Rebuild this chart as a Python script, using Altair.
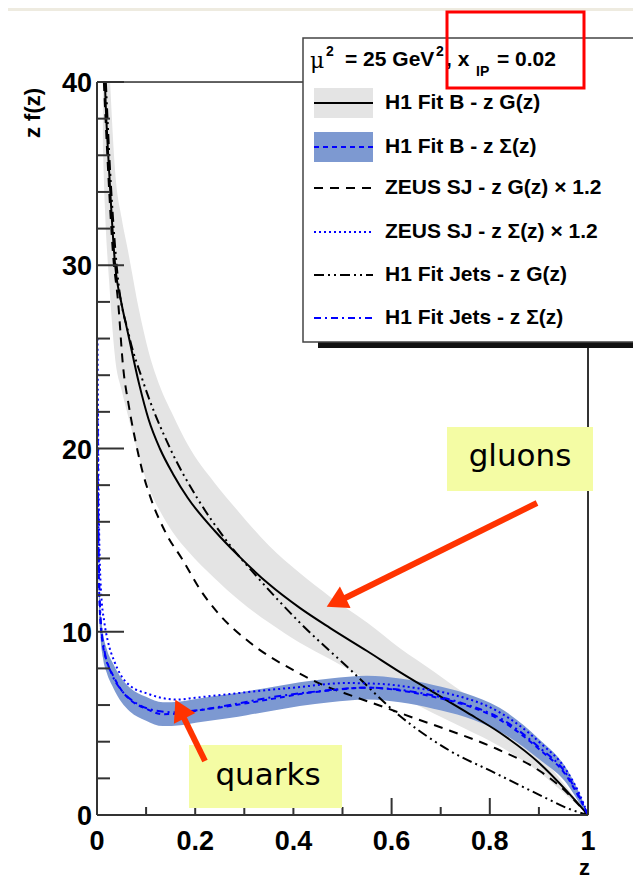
import altair as alt
import pandas as pd

# ---------------- data ----------------
# H1 Fit B - z G(z) (central line and grey error band)
G_z  = [0.012, 0.016, 0.025, 0.037, 0.05, 0.063, 0.086, 0.105, 0.128, 0.155, 0.185, 0.24, 0.29, 0.35, 0.413, 0.475, 0.55, 0.617, 0.685, 0.75, 0.82, 0.9, 0.957, 1.0]
G_v  = [44, 40, 35, 30, 27.9, 26.3, 23.5, 21.6, 20.0, 18.6, 17.3, 15.5, 14.1, 12.6, 11.3, 10.2, 8.95, 7.8, 6.7, 5.65, 4.5, 2.85, 1.3, 0]
G_lo = [36.5, 33.2, 29, 24.9, 23.2, 21.8, 19.5, 17.9, 16.6, 15.4, 14.4, 12.9, 11.7, 10.5, 9.4, 8.5, 7.4, 6.5, 5.55, 4.7, 3.75, 2.35, 1.05, 0]
G_hi = [51.5, 46.8, 41, 35.1, 32.6, 30.8, 27.5, 25.3, 23.4, 21.8, 20.2, 18.1, 16.5, 14.7, 13.2, 11.9, 10.5, 9.1, 7.85, 6.6, 5.25, 3.35, 1.5, 0]

# H1 Fit B - z Sigma(z) (central line and blue error band)
Q_z  = [0.001, 0.003, 0.006, 0.012, 0.02, 0.033, 0.05, 0.067, 0.1, 0.134, 0.17, 0.204, 0.27, 0.305, 0.36, 0.413, 0.475, 0.55, 0.617, 0.685, 0.75, 0.82, 0.9, 0.957, 0.985, 1.0]
Q_v  = [22, 14.5, 11, 9.3, 8.4, 7.6, 6.8, 6.3, 5.8, 5.5, 5.55, 5.7, 5.95, 6.1, 6.35, 6.6, 6.8, 6.95, 6.8, 6.45, 6.0, 5.2, 3.6, 2.1, 0.8, 0]
Q_lo = [20.5, 13.5, 10.2, 8.6, 7.75, 6.95, 6.15, 5.65, 5.15, 4.85, 4.9, 5.05, 5.3, 5.45, 5.7, 5.95, 6.15, 6.3, 6.15, 5.8, 5.35, 4.55, 3.05, 1.7, 0.55, 0]
Q_hi = [23.5, 15.5, 11.8, 10.0, 9.05, 8.25, 7.45, 6.95, 6.45, 6.15, 6.2, 6.35, 6.6, 6.75, 7.0, 7.25, 7.45, 7.6, 7.45, 7.1, 6.65, 5.85, 4.15, 2.5, 1.05, 0]

# ZEUS SJ - z G(z) x 1.2
ZG_z = [0.014, 0.022, 0.033, 0.043, 0.053, 0.065, 0.08, 0.094, 0.108, 0.14, 0.175, 0.21, 0.244, 0.312, 0.40, 0.46, 0.52, 0.583, 0.65, 0.719, 0.815, 0.902, 0.95, 1.0]
ZG_v = [40, 35.5, 30.5, 28, 24.5, 22.3, 20.2, 18.6, 17.4, 15.4, 13.9, 12.3, 11.1, 9.4, 7.9, 7.1, 6.5, 5.9, 5.25, 4.6, 3.6, 2.4, 1.4, 0]

# ZEUS SJ - z Sigma(z) x 1.2
ZQ_z = [0.001, 0.004, 0.008, 0.015, 0.022, 0.035, 0.047, 0.07, 0.1, 0.13, 0.163, 0.2, 0.27, 0.305, 0.4, 0.51, 0.58, 0.644, 0.72, 0.82, 0.9, 0.957, 0.985, 1.0]
ZQ_v = [26, 16, 12.3, 10.5, 9.5, 8.4, 7.7, 7.0, 6.65, 6.4, 6.3, 6.4, 6.6, 6.7, 6.95, 7.2, 7.15, 6.95, 6.6, 5.6, 4.0, 2.4, 1.0, 0]

# H1 Fit Jets - z G(z)
JG_z = [0.018, 0.027, 0.04, 0.065, 0.092, 0.149, 0.204, 0.26, 0.326, 0.413, 0.515, 0.617, 0.719, 0.81, 0.87, 0.92, 0.96, 1.0]
JG_v = [40, 35, 30, 26.2, 23.8, 20, 17.3, 15.1, 13.0, 10.5, 7.95, 5.4, 3.5, 2.3, 1.5, 0.85, 0.35, 0]

# H1 Fit Jets - z Sigma(z)
JQ_z = [0.001, 0.004, 0.008, 0.015, 0.03, 0.05, 0.08, 0.12, 0.16, 0.2, 0.27, 0.35, 0.45, 0.55, 0.65, 0.75, 0.82, 0.9, 0.957, 0.985, 1.0]
JQ_v = [21, 13.5, 10.5, 9.0, 7.7, 6.8, 6.1, 5.7, 5.6, 5.7, 6.0, 6.4, 6.75, 6.95, 6.7, 6.05, 5.3, 3.7, 2.2, 0.85, 0]

# axis ticks and labels
X_MAJOR = [0, 0.2, 0.4, 0.6, 0.8, 1.0]
X_LABELS = ["0", "0.2", "0.4", "0.6", "0.8", "1"]
X_MINOR = [0.1, 0.3, 0.5, 0.7, 0.9]
Y_MAJOR = [0, 10, 20, 30, 40]
Y_LABELS = ["0", "10", "20", "30", "40"]
Y_MINOR = [2, 4, 6, 8, 12, 14, 16, 18, 22, 24, 26, 28, 32, 34, 36, 38]

LEGEND_LABELS = ["H1 Fit B - z G(z)", "H1 Fit B - z \u03a3(z)",
                 "ZEUS SJ - z G(z) \u00d7 1.2", "ZEUS SJ - z \u03a3(z) \u00d7 1.2",
                 "H1 Fit Jets - z G(z)", "H1 Fit Jets - z \u03a3(z)"]

# ---------------- style ----------------
W, H = 491, 733
FONT = "Liberation Sans"
GREY_BAND = "#e4e4e4"
BLUE_BAND = "#7d99d1"
BLUE = "#0000ff"
BLACK = "#000000"
FRAME = "#333333"
RED = "#ff3300"
YELLOW = "#f4fca4"

xs = alt.Scale(domain=[0, 1], nice=False, zero=False)
ys = alt.Scale(domain=[0, 40], nice=False, zero=False)
dummy = alt.Data(values=[{"a": 1}])


def X(f="z"):
    return alt.X(f + ":Q", scale=xs, axis=None)


def Y(f="v"):
    return alt.Y(f + ":Q", scale=ys, axis=None)


def curve(z, v, color, dash=None, width=2.0):
    kw = dict(color=color, strokeWidth=width, clip=True, interpolate="monotone")
    if dash:
        kw["strokeDash"] = dash
    return alt.Chart(pd.DataFrame({"z": z, "v": v})).mark_line(**kw).encode(x=X(), y=Y())


def band(z, lo, hi, color):
    df = pd.DataFrame({"z": z, "lo": lo, "hi": hi})
    return alt.Chart(df).mark_area(color=color, clip=True, interpolate="monotone", opacity=1).encode(
        x=X(), y=Y("lo"), y2=alt.Y2("hi:Q"))


def prect(x, x2, y, y2, **kw):
    return alt.Chart(dummy).mark_rect(**kw).encode(
        x=alt.value(x), x2=alt.value(x2), y=alt.value(y), y2=alt.value(y2))


def prule(x, x2, y, y2, **kw):
    return alt.Chart(dummy).mark_rule(**kw).encode(
        x=alt.value(x), x2=alt.value(x2), y=alt.value(y), y2=alt.value(y2))


def ptext(text, x, y, size, **kw):
    base = dict(font=FONT, fontSize=size, fontWeight="bold", color=BLACK,
                align="left", baseline="middle")
    base.update(kw)
    return alt.Chart(dummy).mark_text(text=text, **base).encode(x=alt.value(x), y=alt.value(y))


layers = []

# bands
layers.append(band(G_z, G_lo, G_hi, GREY_BAND))
layers.append(band(Q_z, Q_lo, Q_hi, BLUE_BAND))

# curves
DASH_ZG = [9, 7]
DASH_ZQ = [2, 3]
DASH_JG = [10, 4, 2, 4, 2, 4]
DASH_JQ = [7, 4, 2, 4]
DASH_Q = [5, 4]
layers.append(curve(ZG_z, ZG_v, BLACK, DASH_ZG))
layers.append(curve(JG_z, JG_v, BLACK, DASH_JG))
layers.append(curve(G_z, G_v, BLACK))
layers.append(curve(ZQ_z, ZQ_v, BLUE, DASH_ZQ))
layers.append(curve(JQ_z, JQ_v, BLUE, DASH_JQ))
layers.append(curve(Q_z, Q_v, BLUE, DASH_Q))

# frame
layers.append(prule(0, 0, 0, H, color=FRAME, strokeWidth=2))
layers.append(prule(0, W, H, H, color=FRAME, strokeWidth=2))
layers.append(prule(0, W, 0, 0, color=FRAME, strokeWidth=1.5))
layers.append(prule(W, W, 0, H, color=FRAME, strokeWidth=2))

# ticks (inward)
layers.append(alt.Chart(pd.DataFrame({"z": X_MAJOR})).mark_rule(color=FRAME, strokeWidth=2).encode(
    x=X(), y=alt.value(H), y2=alt.value(H - 17)))
layers.append(alt.Chart(pd.DataFrame({"z": X_MINOR})).mark_rule(color=FRAME, strokeWidth=2).encode(
    x=X(), y=alt.value(H), y2=alt.value(H - 8)))
layers.append(alt.Chart(pd.DataFrame({"v": Y_MAJOR})).mark_rule(color=FRAME, strokeWidth=2).encode(
    y=Y(), x=alt.value(0), x2=alt.value(27)))
layers.append(alt.Chart(pd.DataFrame({"v": Y_MINOR})).mark_rule(color=FRAME, strokeWidth=2).encode(
    y=Y(), x=alt.value(0), x2=alt.value(13)))

# tick labels
layers.append(alt.Chart(pd.DataFrame({"z": X_MAJOR, "t": X_LABELS})).mark_text(
    font=FONT, fontSize=27, fontWeight="bold", color=BLACK, align="center", baseline="middle").encode(
    x=X(), y=alt.value(760), text="t:N"))
layers.append(alt.Chart(pd.DataFrame({"v": Y_MAJOR, "t": Y_LABELS})).mark_text(
    font=FONT, fontSize=27, fontWeight="bold", color=BLACK, align="right", baseline="middle", dy=2).encode(
    y=Y(), x=alt.value(-5), text="t:N"))

# axis titles
layers.append(ptext("z f(z)", -64, 31, 22, angle=270, align="center"))
layers.append(ptext("z", 493, 793, 22, align="right", baseline="alphabetic"))

# legend box
layers.append(prect(221, 560, 252, 266, color="#111111"))
layers.append(prect(206, 560, -44, 260, fill="white", stroke="#444444", strokeWidth=1.5))
# title:  mu^2 = 25 GeV^2, x_IP = 0.02
layers.append(ptext("\u03bc", 213, -21, 22, fontWeight="normal", font="DejaVu Serif"))
layers.append(ptext("2", 229, -30, 14))
layers.append(ptext("= 25 GeV", 248, -22, 21))
layers.append(ptext("2", 339, -30, 14))
layers.append(ptext(", x", 349, -22, 21))
layers.append(ptext("IP", 379, -10, 14))
layers.append(ptext("= 0.02", 400, -22, 21))

ROWS = [21, 65, 106, 150, 193, 236]
layers.append(prect(217, 276, 6, 36, color=GREY_BAND))
layers.append(prule(217, 276, ROWS[0], ROWS[0], color=BLACK, strokeWidth=2))
layers.append(prect(217, 276, 50, 80, color=BLUE_BAND))
layers.append(prule(217, 276, ROWS[1], ROWS[1], color=BLUE, strokeWidth=2, strokeDash=DASH_Q))
layers.append(prule(217, 276, ROWS[2], ROWS[2], color=BLACK, strokeWidth=2, strokeDash=DASH_ZG))
layers.append(prule(217, 276, ROWS[3], ROWS[3], color=BLUE, strokeWidth=2, strokeDash=DASH_ZQ))
layers.append(prule(217, 276, ROWS[4], ROWS[4], color=BLACK, strokeWidth=2, strokeDash=DASH_JG))
layers.append(prule(217, 276, ROWS[5], ROWS[5], color=BLUE, strokeWidth=2, strokeDash=DASH_JQ))
for lab, ry in zip(LEGEND_LABELS, ROWS):
    layers.append(ptext(lab, 288, ry, 21))

# slide annotations
layers.append(prect(350, 496, 345, 409, color=YELLOW))
layers.append(ptext("gluons", 423, 375, 31, fontWeight="normal", font="DejaVu Sans", align="center"))
layers.append(prect(92, 245, 663, 726, color=YELLOW))
layers.append(ptext("quarks", 171, 694, 31, fontWeight="normal", font="DejaVu Sans", align="center"))

layers.append(prule(440, 240, 421, 520, color=RED, strokeWidth=6))
layers.append(alt.Chart(dummy).mark_point(shape="triangle-up", filled=True, size=576, color=RED,
                                          opacity=1, angle=243.4).encode(x=alt.value(239), y=alt.value(520)))
layers.append(prule(108, 83, 679, 628, color=RED, strokeWidth=6))
layers.append(alt.Chart(dummy).mark_point(shape="triangle-up", filled=True, size=576, color=RED,
                                          opacity=1, angle=333.4).encode(x=alt.value(83), y=alt.value(627)))

# slide header strip and red highlight box
layers.append(prect(-89, 560, -74, -71, color="#eeebe0"))
layers.append(prect(350, 487, -70, 6, fillOpacity=0, stroke="#ff0000", strokeWidth=3))

chart = alt.layer(*layers).properties(
    width=W, height=H,
    autosize=alt.AutoSizeParams(type="none"),
    padding={"left": 89, "top": 74, "right": 45, "bottom": 64},
).configure_view(stroke=None).configure(background="white")

chart.save("out.html", embed_options={"renderer": "svg", "actions": False})
